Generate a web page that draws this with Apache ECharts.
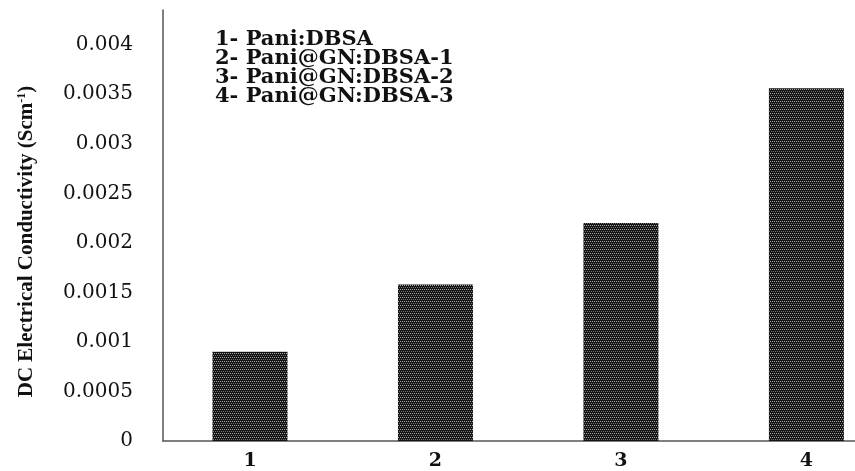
<!DOCTYPE html>
<html>
<head>
<meta charset="utf-8">
<script src="https://cdn.jsdelivr.net/npm/echarts@6/dist/echarts.min.js"></script>
<style>html,body{margin:0;padding:0;background:#fff;}#c{width:855px;height:471px;}</style>
</head>
<body>
<div id="c"></div>
<script>
const categories = ['1', '2', '3', '4'];
const xPositions = [1, 2, 3, 4];
const conductivity = [0.0009, 0.00158, 0.0022, 0.00356];
const yTicks = [0, 0.0005, 0.001, 0.0015, 0.002, 0.0025, 0.003, 0.0035, 0.004];
const legendLines = ['1- Pani:DBSA', '2- Pani@GN:DBSA-1', '3- Pani@GN:DBSA-2', '4- Pani@GN:DBSA-3'];

// dotted dark fill pattern
const pc = document.createElement('canvas');
pc.width = 4; pc.height = 4;
const g = pc.getContext('2d');
g.fillStyle = '#141414'; g.fillRect(0, 0, 4, 4);
g.fillStyle = '#a8a8a8'; g.fillRect(0, 1, 1, 1); g.fillRect(2, 1, 1, 1);
g.fillStyle = '#707070'; g.fillRect(1, 3, 1, 1); g.fillRect(3, 3, 1, 1);

const chart = echarts.init(document.getElementById('c'));
chart.setOption({
  animation: false,
  backgroundColor: '#fff',
  title: {
    text: legendLines.join('\n'),
    left: 210, top: 25,
    textStyle: { fontFamily: 'DejaVu Serif', fontWeight: 'bold', fontSize: 21, lineHeight: 19, color: '#111' }
  },
  grid: { left: 163, right: 0, top: 10, bottom: 28 },
  xAxis: {
    type: 'value', min: 0.531, max: 4.262,
    splitLine: { show: false },
    axisTick: { show: false },
    axisLine: { show: true, lineStyle: { color: '#555', width: 1.5 } },
    axisLabel: {
      customValues: xPositions,
      formatter: v => categories[xPositions.indexOf(v)],
      margin: 11,
      fontFamily: 'DejaVu Serif', fontWeight: 'bold', fontSize: 19, color: '#111'
    }
  },
  yAxis: {
    type: 'value', min: 0, max: 0.00435,
    splitLine: { show: false },
    axisTick: { show: false },
    axisLine: { show: true, lineStyle: { color: '#555', width: 1.5 } },
    axisLabel: {
      customValues: yTicks,
      margin: 30,
      fontFamily: 'DejaVu Serif', fontSize: 20, color: '#111'
    },
    name: '{a|DC Electrical Conductivity (Scm}{s|-1}{a|)}',
    nameLocation: 'middle', nameRotate: 90, nameGap: 126,
    nameTextStyle: {
      padding: [0, 32, 0, 0],
      rich: {
        a: { fontFamily: 'Liberation Serif', fontWeight: 'bold', fontSize: 21, color: '#111' },
        s: { fontFamily: 'Liberation Serif', fontWeight: 'bold', fontSize: 12, color: '#111', verticalAlign: 'top', padding: [0, 0, 9, 0] }
      }
    }
  },
  series: [{
    type: 'bar',
    barWidth: 75,
    data: xPositions.map((x, i) => [x, conductivity[i]]),
    itemStyle: { color: { image: pc, repeat: 'repeat' } }
  }]
});
</script>
</body>
</html>
